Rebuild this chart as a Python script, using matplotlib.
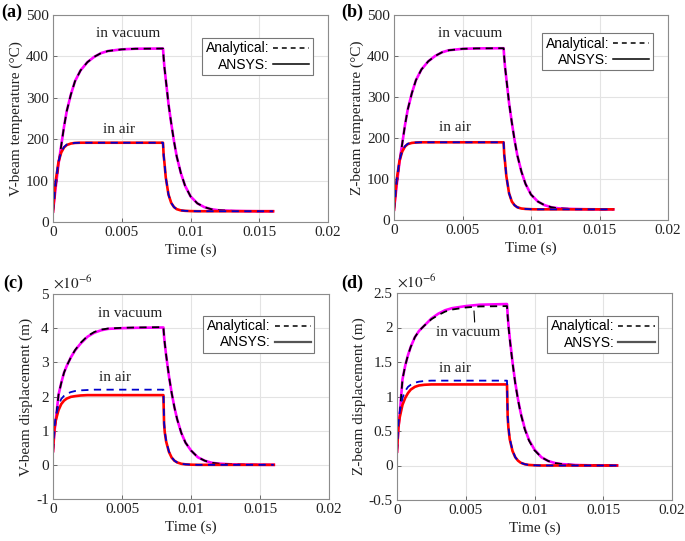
import matplotlib
matplotlib.use("Agg")
import matplotlib.pyplot as plt
from matplotlib.lines import Line2D

plt.rcParams['font.family'] = ['Liberation Serif', 'DejaVu Serif']
plt.rcParams['axes.unicode_minus'] = False
plt.rcParams['mathtext.fontset'] = 'stix'

# ---------------- data ----------------
time_s = [0, 0.0001, 0.0002, 0.0004, 0.0006, 0.0008, 0.001, 0.0013, 0.0016, 0.002,
          0.0025, 0.003, 0.0035, 0.004, 0.005, 0.006, 0.008,
          0.00805, 0.0081, 0.0082, 0.0084, 0.0086, 0.0088, 0.009, 0.0093, 0.0096,
          0.01, 0.0105, 0.011, 0.0115, 0.012, 0.013, 0.014, 0.015, 0.016]

# (a) V-beam temperature (°C)
a_vac_ansys = [25, 55, 85, 140, 185, 230, 268, 308, 340, 366, 386, 399, 408, 413, 417, 418.5, 419,
               395, 375, 345, 285, 238, 195, 158, 118, 88, 62, 45, 36, 31, 28.5, 27, 26.3, 26, 26]
a_vac_analytical = [25, 55, 85, 140, 185, 230, 268, 308, 340, 366, 386, 399, 408, 413, 417, 418.5, 419,
                    395, 375, 345, 285, 238, 195, 158, 118, 88, 62, 45, 36, 31, 28.5, 27, 26.3, 26, 26]
a_air_ansys = [25, 65, 100, 145, 168, 180, 186, 189.5, 191, 191.5, 191.5, 191.5, 191.5, 191.5, 191.5, 191.5, 191.5,
               160, 145, 108, 66, 46, 36, 31, 28, 27, 26.3, 26, 26, 26, 26, 26, 26, 26, 26]
a_air_analytical = [25, 66, 101, 146, 169, 181, 187, 190, 191, 191.5, 191.5, 191.5, 191.5, 191.5, 191.5, 191.5, 191.5,
                    160, 145, 108, 66, 46, 36, 31, 28, 27, 26.3, 26, 26, 26, 26, 26, 26, 26, 26]

# (b) Z-beam temperature (°C)
b_vac_ansys = [25, 55, 86, 141, 186, 231, 269, 309, 341, 367, 387, 400, 409, 414, 417.5, 418.5, 419,
               395, 375, 345, 285, 238, 195, 158, 118, 88, 62, 45, 36, 31, 28.5, 27, 26.3, 26, 26]
b_vac_analytical = [25, 55, 86, 141, 186, 231, 269, 309, 341, 367, 387, 400, 409, 414, 417.5, 418.5, 419,
                    395, 375, 345, 285, 238, 195, 158, 118, 88, 62, 45, 36, 31, 28.5, 27, 26.3, 26, 26]
b_air_ansys = [25, 64, 99, 144, 167, 179, 185, 188, 189, 189.5, 189.5, 189.5, 189.5, 189.5, 189.5, 189.5, 189.5,
               158, 143, 107, 65, 45, 36, 31, 28, 27, 26.3, 26, 26, 26, 26, 26, 26, 26, 26]
b_air_analytical = [25, 65, 100, 145, 168, 180, 186, 188.5, 189, 189.5, 189.5, 189.5, 189.5, 189.5, 189.5, 189.5, 189.5,
                    158, 143, 107, 65, 45, 36, 31, 28, 27, 26.3, 26, 26, 26, 26, 26, 26, 26, 26]

# (c) V-beam displacement (x1e-6 m)
c_vac_ansys = [0.4, 0.95, 1.3, 2.05, 2.4, 2.7, 2.9, 3.15, 3.35, 3.55, 3.75, 3.87, 3.94, 3.98, 4.0, 4.01, 4.02,
               3.75, 3.55, 3.2, 2.6, 2.1, 1.68, 1.33, 0.93, 0.65, 0.42, 0.22, 0.12, 0.06, 0.035, 0.012, 0.005, 0.002, 0.0]
c_vac_analytical = [0.4, 0.95, 1.3, 2.05, 2.4, 2.7, 2.9, 3.15, 3.36, 3.57, 3.77, 3.89, 3.96, 3.99, 4.01, 4.02, 4.03,
                    3.76, 3.56, 3.21, 2.6, 2.1, 1.68, 1.33, 0.93, 0.65, 0.42, 0.22, 0.12, 0.06, 0.035, 0.012, 0.005, 0.002, 0.0]
c_air_ansys = [0.4, 1.05, 1.3, 1.6, 1.78, 1.88, 1.94, 1.99, 2.01, 2.03, 2.04, 2.04, 2.04, 2.04, 2.04, 2.04, 2.04,
               1.2, 0.95, 0.68, 0.38, 0.21, 0.12, 0.07, 0.03, 0.015, 0.005, 0.0, 0.0, 0.0, 0.0, 0.0, 0.0, 0.0, 0.0]
c_air_analytical = [0.4, 1.1, 1.4, 1.75, 1.93, 2.02, 2.08, 2.13, 2.16, 2.18, 2.19, 2.2, 2.2, 2.2, 2.2, 2.2, 2.2,
                    1.25, 0.98, 0.7, 0.39, 0.22, 0.12, 0.07, 0.03, 0.015, 0.005, 0.0, 0.0, 0.0, 0.0, 0.0, 0.0, 0.0, 0.0]

# (d) Z-beam displacement (x1e-6 m)
d_vac_ansys = [0.2, 0.55, 0.75, 1.25, 1.45, 1.6, 1.72, 1.86, 1.95, 2.03, 2.13, 2.2, 2.25, 2.28, 2.31, 2.33, 2.34,
               2.18, 2.05, 1.85, 1.5, 1.2, 0.96, 0.76, 0.53, 0.37, 0.23, 0.12, 0.065, 0.035, 0.02, 0.007, 0.003, 0.001, 0.0]
d_vac_analytical = [0.2, 0.55, 0.75, 1.25, 1.45, 1.6, 1.72, 1.86, 1.95, 2.03, 2.12, 2.18, 2.23, 2.26, 2.29, 2.305, 2.31,
                    2.16, 2.03, 1.83, 1.49, 1.19, 0.95, 0.75, 0.52, 0.36, 0.22, 0.12, 0.065, 0.035, 0.02, 0.007, 0.003, 0.001, 0.0]
d_air_ansys = [0.2, 0.55, 0.7, 0.88, 0.98, 1.05, 1.1, 1.14, 1.16, 1.17, 1.175, 1.175, 1.175, 1.175, 1.175, 1.175, 1.175,
               0.7, 0.55, 0.38, 0.21, 0.12, 0.07, 0.04, 0.018, 0.008, 0.003, 0.0, 0.0, 0.0, 0.0, 0.0, 0.0, 0.0, 0.0]
d_air_analytical = [0.2, 0.6, 0.78, 0.98, 1.08, 1.14, 1.17, 1.2, 1.215, 1.225, 1.23, 1.23, 1.23, 1.23, 1.23, 1.23, 1.23,
                    0.72, 0.57, 0.39, 0.22, 0.12, 0.07, 0.04, 0.018, 0.008, 0.003, 0.0, 0.0, 0.0, 0.0, 0.0, 0.0, 0.0, 0.0]

x_ticks = [0, 0.005, 0.01, 0.015, 0.02]
x_tick_labels = ['0', '0.005', '0.01', '0.015', '0.02']
y_ticks_temp = [0, 100, 200, 300, 400, 500]
y_ticks_c = [-1, 0, 1, 2, 3, 4, 5]
y_ticks_d = [-0.5, 0, 0.5, 1, 1.5, 2, 2.5]
panel_labels = ['(a)', '(b)', '(c)', '(d)']
y_labels = ['V-beam temperature (°C)', 'Z-beam temperature (°C)',
            'V-beam displacement (m)', 'Z-beam displacement (m)']
legend_labels = ['Analytical:', 'ANSYS:']

# ---------------- figure ----------------
W, H = 685, 541
fig = plt.figure(figsize=(W / 100, H / 100), dpi=100)

def fbox(x0, y0, x1, y1):
    return [x0 / W, 1 - y1 / H, (x1 - x0) / W, (y1 - y0) / H]

axes_boxes = [fbox(53, 15, 328, 222), fbox(394, 15, 668, 220),
              fbox(53, 294, 329, 499), fbox(397, 293, 672, 500)]
series = [
    (a_vac_ansys, a_vac_analytical, a_air_ansys, a_air_analytical),
    (b_vac_ansys, b_vac_analytical, b_air_ansys, b_air_analytical),
    (c_vac_ansys, c_vac_analytical, c_air_ansys, c_air_analytical),
    (d_vac_ansys, d_vac_analytical, d_air_ansys, d_air_analytical),
]
ylims = [(0, 500), (0, 500), (-1, 5), (-0.5, 2.5)]
yticks = [y_ticks_temp, y_ticks_temp, y_ticks_c, y_ticks_d]
legend_anchor = [(0.945, 0.889), (0.945, 0.912), (0.946, 0.893), (0.949, 0.889)]
label_pos = [(1, 12), (341, 12), (3, 283), (341, 283)]

tick_fs = 11
txt_col = '#222222'
for i in range(4):
    ax = fig.add_axes(axes_boxes[i])
    vac_an, vac_th, air_an, air_th = series[i]
    ax.plot(time_s, vac_an, color='#ff00ff', lw=1.9)
    ax.plot(time_s, vac_th, color='black', lw=1.3, ls=(0, (4, 3)))
    ax.plot(time_s, air_an, color='#ff0000', lw=1.9)
    ax.plot(time_s, air_th, color='#0000cc', lw=1.3, ls=(0, (4, 3)))
    ax.set_xlim(0, 0.02)
    ax.set_ylim(*ylims[i])
    ax.set_xticks(x_ticks)
    ax.set_xticklabels(x_tick_labels)
    ax.set_yticks(yticks[i])
    ax.set_yticklabels(['%g' % v for v in yticks[i]])
    if i >= 2:
        ax.text(0.0, 1.012, r'$\times 10^{-6}$', transform=ax.transAxes, fontsize=tick_fs,
                ha='left', va='bottom', color=txt_col)
    ax.grid(True, color='#e3e3e3', lw=0.8)
    ax.set_axisbelow(True)
    for sp in ax.spines.values():
        sp.set_color('#8c8c8c')
        sp.set_linewidth(0.8)
    ax.tick_params(direction='in', length=3, width=0.6, color='#555555',
                   labelsize=tick_fs, labelcolor=txt_col, pad=3)
    ax.set_xlabel('Time (s)', fontsize=tick_fs, labelpad=3, color=txt_col)
    ax.set_ylabel(y_labels[i], fontsize=tick_fs, labelpad=2, color=txt_col)

    handles = [Line2D([], [], color='black', lw=1.1, ls=(0, (3.2, 2.6))),
               Line2D([], [], color='black' if i < 2 else '#555555', lw=1.1 if i < 2 else 1.6)]
    leg = ax.legend(handles, legend_labels, loc='upper right', bbox_to_anchor=legend_anchor[i],
                    markerfirst=False, fancybox=False, framealpha=1, edgecolor='#777777',
                    prop={'family': 'Liberation Sans', 'size': 10}, handlelength=2.6,
                    handletextpad=0.3, borderpad=0.25, labelspacing=0.15, borderaxespad=0)
    leg.get_frame().set_linewidth(0.8)

    if i == 0:
        ax.text(0.0055, 440, 'in vacuum', fontsize=tick_fs, ha='center', va='bottom', color=txt_col)
        ax.text(0.0048, 208, 'in air', fontsize=tick_fs, ha='center', va='bottom', color=txt_col)
    elif i == 1:
        ax.text(0.00555, 440, 'in vacuum', fontsize=tick_fs, ha='center', va='bottom', color=txt_col)
        ax.text(0.00445, 210, 'in air', fontsize=tick_fs, ha='center', va='bottom', color=txt_col)
    elif i == 2:
        ax.text(0.0056, 4.25, 'in vacuum', fontsize=tick_fs, ha='center', va='bottom', color=txt_col)
        ax.text(0.0045, 2.37, 'in air', fontsize=tick_fs, ha='center', va='bottom', color=txt_col)
    else:
        ax.annotate('in vacuum', xy=(0.0056, 2.24), xytext=(0.0052, 1.83), fontsize=tick_fs,
                    ha='center', va='bottom', color=txt_col,
                    arrowprops=dict(arrowstyle='-', color='black', lw=0.8, shrinkA=1, shrinkB=0,
                                    relpos=(0.6, 1.0)))
        ax.text(0.00425, 1.31, 'in air', fontsize=tick_fs, ha='center', va='bottom', color=txt_col)

    fig.text(label_pos[i][0] / W, 1 - label_pos[i][1] / H, panel_labels[i], fontsize=13,
             fontweight='bold', ha='left', va='center', color='black')

fig.savefig('out.png', dpi=100)
